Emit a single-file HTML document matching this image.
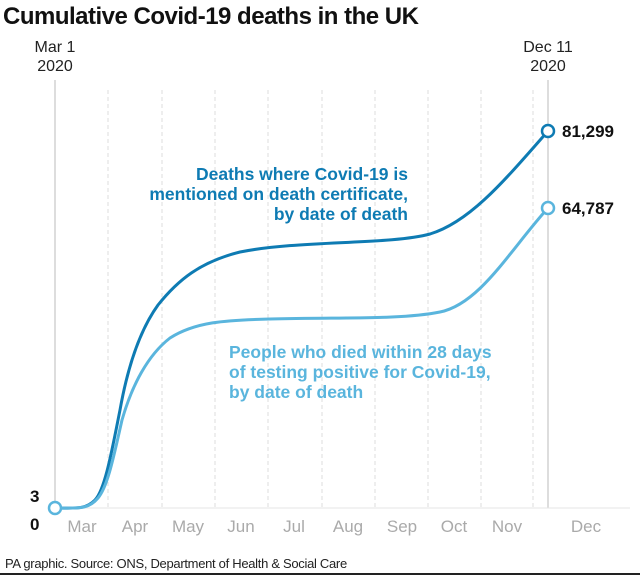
<!DOCTYPE html>
<html><head><style>
body{margin:0;background:#fff;font-family:"Liberation Sans",sans-serif}
</style></head><body>
<svg width="640" height="575" viewBox="0 0 640 575" xmlns="http://www.w3.org/2000/svg" font-family="Liberation Sans, sans-serif">
<text x="3" y="24" font-size="24" font-weight="bold" fill="#111" letter-spacing="-0.5">Cumulative Covid-19 deaths in the UK</text>
<g stroke="#ddd" stroke-width="1" stroke-dasharray="4,3">
<line x1="108" y1="90" x2="108" y2="508"/><line x1="162" y1="90" x2="162" y2="508"/><line x1="215" y1="90" x2="215" y2="508"/><line x1="268" y1="90" x2="268" y2="508"/><line x1="322" y1="90" x2="322" y2="508"/><line x1="375" y1="90" x2="375" y2="508"/><line x1="428" y1="90" x2="428" y2="508"/><line x1="481" y1="90" x2="481" y2="508"/><line x1="533" y1="90" x2="533" y2="508"/>
</g>
<line x1="55" y1="80" x2="55" y2="508" stroke="#bbb"/>
<line x1="548" y1="80" x2="548" y2="508" stroke="#bbb"/>
<line x1="55" y1="508" x2="630" y2="508" stroke="#e5e5e5"/>
<g font-size="16" fill="#222" text-anchor="middle">
<text x="55" y="52">Mar 1</text><text x="55" y="71">2020</text>
<text x="548" y="52">Dec 11</text><text x="548" y="71">2020</text>
</g>
<path d="M55,508 C75,508 85,510 95,500 C105,490 112,450 120,410 C128,365 140,330 158,305 C178,280 200,262 240,252 C300,240 390,245 430,234 C470,222 505,180 548,131" fill="none" stroke="#0e7bb3" stroke-width="3"/>
<path d="M55,508 C78,508 88,510 98,498 C108,486 114,455 122,420 C132,385 148,355 170,338 C195,322 225,320 270,319 C340,317 400,320 440,312 C480,304 510,250 548,208" fill="none" stroke="#5ab5dd" stroke-width="3"/>
<circle cx="55" cy="508" r="6" fill="#fff" stroke="#5ab5dd" stroke-width="2.5"/>
<circle cx="548" cy="131" r="6" fill="#fff" stroke="#0e7bb3" stroke-width="2.5"/>
<circle cx="548" cy="208" r="6" fill="#fff" stroke="#5ab5dd" stroke-width="2.5"/>
<g font-size="17" font-weight="bold" fill="#111">
<text x="562" y="137">81,299</text><text x="562" y="214">64,787</text>
<text x="30" y="502">3</text><text x="30" y="530">0</text>
</g>
<g font-size="17.5" font-weight="bold" fill="#0e7bb3" text-anchor="end">
<text x="408" y="180">Deaths where Covid-19 is</text>
<text x="408" y="200">mentioned on death certificate,</text>
<text x="408" y="220">by date of death</text>
</g>
<g font-size="17.5" font-weight="bold" fill="#5ab5dd">
<text x="229" y="358">People who died within 28 days</text>
<text x="229" y="378">of testing positive for Covid-19,</text>
<text x="229" y="398">by date of death</text>
</g>
<g font-size="17" fill="#aaa" text-anchor="middle">
<text x="82" y="532">Mar</text><text x="135" y="532">Apr</text><text x="188" y="532">May</text><text x="241" y="532">Jun</text><text x="294" y="532">Jul</text><text x="348" y="532">Aug</text><text x="402" y="532">Sep</text><text x="454" y="532">Oct</text><text x="507" y="532">Nov</text><text x="586" y="532">Dec</text>
</g>
<text x="5" y="568" font-size="13" fill="#222" letter-spacing="-0.3">PA graphic. Source: ONS, Department of Health &amp; Social Care</text>
<rect x="0" y="573" width="640" height="2" fill="#222"/>
</svg>
</body></html>
